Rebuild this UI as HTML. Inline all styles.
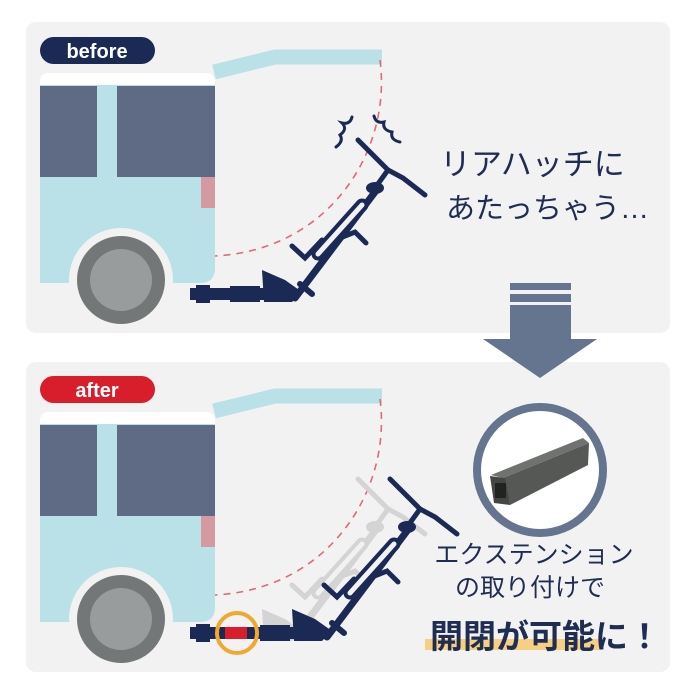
<!DOCTYPE html>
<html><head><meta charset="utf-8"><style>
body{margin:0;background:#fff;}
svg{display:block}
text{font-family:"Liberation Sans","Noto Sans CJK JP",sans-serif;}
</style></head><body>
<svg width="700" height="700" viewBox="0 0 700 700" xmlns="http://www.w3.org/2000/svg">
<defs>
<g id="car">
  <rect x="40" y="73" width="175" height="20" rx="8" fill="#fff"/>
  <path d="M40 85 H215 V268 Q215 283 200 283 H40 Z" fill="#b9e1e7"/>
  <rect x="40" y="86" width="57" height="91" fill="#5f6b85"/>
  <rect x="117" y="86" width="98" height="91" fill="#5f6b85"/>
  <rect x="201" y="177" width="14" height="31" fill="#d59aa1"/>
  <circle cx="121" cy="280" r="52" fill="#f2f2f2"/>
  <rect x="40" y="283" width="180" height="45" fill="#f2f2f2"/>
  <circle cx="121" cy="280" r="44" fill="#747778"/>
  <circle cx="121" cy="280" r="31" fill="#999c9d"/>
  <path d="M214 72 L275 57 L382 57" fill="none" stroke="#b9e1e7" stroke-width="15"/>
  <path d="M380 60 C392 150 330 250 215 256" fill="none" stroke="#e06a72" stroke-width="1.6" stroke-dasharray="7 6"/>
</g>
<g id="bike">
  <line x1="295" y1="298" x2="375" y2="192" stroke-width="7"/>
  <line x1="318" y1="254" x2="362" y2="205" stroke-width="13"/>
  <line x1="318" y1="254" x2="362" y2="205" stroke-width="5" stroke="#f2f2f2"/>
  <polyline points="292,246 305,258 322,240" fill="none" stroke-width="5"/>
  <polyline points="340,238 355,232 366,243" fill="none" stroke-width="5"/>
  <line x1="300" y1="284" x2="312" y2="294" stroke-width="6"/>
  <ellipse cx="375" cy="188" rx="9" ry="6" stroke="none"/>
  <polyline points="358,140 375,157 388,170 403,178 425,195" fill="none" stroke-width="5"/>
  <line x1="388" y1="170" x2="375" y2="188" stroke-width="5"/>
</g>
</defs>

<rect x="26" y="22" width="644" height="311" rx="10" fill="#f2f2f2"/>
<rect x="26" y="362" width="644" height="310" rx="10" fill="#f2f2f2"/>

<!-- top -->
<use href="#car"/>
<rect x="190" y="288" width="100" height="12" fill="#1b2a55"/>
<rect x="196" y="285" width="14" height="18" fill="#1b2a55"/>
<rect x="230" y="286" width="30" height="16" fill="#1b2a55"/>
<polygon points="262,270 285,280 302,292 292,302 264,302" fill="#1b2a55"/>
<g stroke="#1b2a55" fill="#1b2a55" stroke-linecap="round"><use href="#bike"/></g>
<g fill="none" stroke="#1b2a55" stroke-width="3" stroke-linecap="round">
<path d="M352 117 q-2 8 -10 6 q6 6 -2 12 q4 6 -4 12"/>
<path d="M374 116 q2 8 10 6 q-2 8 8 10 q-2 8 8 10"/>
</g>
<rect x="40" y="37" width="115" height="27" rx="13.5" fill="#1b2a55"/>
<text x="97" y="58" font-size="20" font-weight="bold" fill="#fff" text-anchor="middle">before</text>
<text x="440" y="175" font-size="31" fill="#1f2d52">リアハッチに</text>
<text x="446" y="218" font-size="29" fill="#1f2d52">あたっちゃう…</text>

<!-- arrow -->
<rect x="510" y="283" width="61" height="7" fill="#65748f"/>
<rect x="510" y="294" width="61" height="8" fill="#65748f"/>
<rect x="510" y="305" width="61" height="34" fill="#65748f"/>
<polygon points="483,339 597,339 540,378" fill="#65748f"/>

<!-- bottom -->
<g transform="translate(0,339)">
<use href="#car"/>
<g stroke="#d4d4d4" fill="#d4d4d4" stroke-linecap="round"><use href="#bike"/></g>
<polygon points="262,270 285,280 302,292 292,302 264,302" fill="#d4d4d4"/>
<rect x="190" y="288" width="130" height="12" fill="#1b2a55"/>
<rect x="196" y="285" width="14" height="18" fill="#1b2a55"/>
<rect x="260" y="286" width="30" height="16" fill="#1b2a55"/>
<rect x="225" y="288" width="22" height="12" fill="#d81e2a"/>
<circle cx="237" cy="294" r="20" fill="none" stroke="#f0a92e" stroke-width="4"/>
<polygon points="292,270 315,280 332,292 322,302 294,302" fill="#1b2a55"/>
<g transform="translate(32,0)" stroke="#1b2a55" fill="#1b2a55" stroke-linecap="round"><use href="#bike"/></g>
</g>
<rect x="40" y="376" width="115" height="27" rx="13.5" fill="#d81e2a"/>
<text x="97" y="397" font-size="20" font-weight="bold" fill="#fff" text-anchor="middle">after</text>

<circle cx="540" cy="470" r="63" fill="#fff" stroke="#65748f" stroke-width="8"/>
<polygon points="491,475 583,438 589,443 503,478" fill="#6f726e"/>
<polygon points="503,478 589,443 588,465 510,505" fill="#555855"/>
<polygon points="490,476 505,478 510,505 494,503" fill="#444644"/>
<rect x="495" y="483" width="11" height="15" fill="#222"/>

<text x="534" y="563" font-size="25" fill="#1f2d52" text-anchor="middle">エクステンション</text>
<text x="530" y="596" font-size="25" fill="#1f2d52" text-anchor="middle">の取り付けで</text>
<rect x="425" y="639" width="175" height="11" fill="#f6cf82"/>
<text x="430" y="648" font-size="33" font-weight="bold" fill="#1f2d52">開閉が可能に！</text>
</svg>
</body></html>
